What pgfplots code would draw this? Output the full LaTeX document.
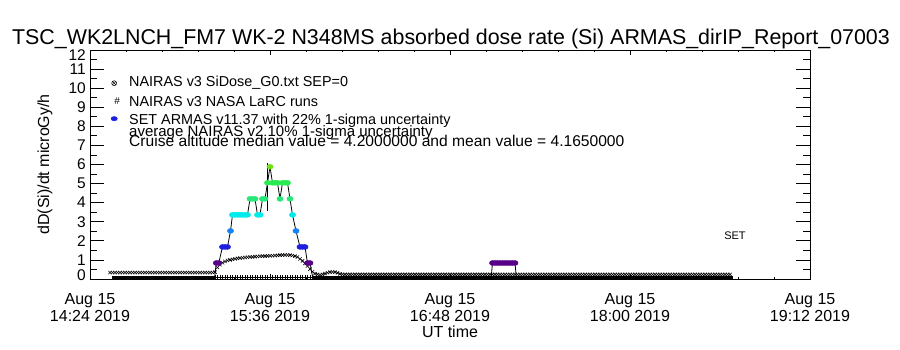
\documentclass[border=0pt]{standalone}
\usepackage{fontspec}
\setmainfont{Liberation Sans}
\usepackage{pgfplots}
\pgfplotsset{compat=1.18}
\definecolor{cA}{RGB}{85,0,135}
\definecolor{cB}{RGB}{30,30,225}
\definecolor{cC}{RGB}{20,130,245}
\definecolor{cD}{RGB}{0,235,235}
\definecolor{cE}{RGB}{40,230,120}
\definecolor{cF}{RGB}{40,235,80}
\definecolor{cG}{RGB}{110,225,20}
\begin{document}
\begin{tikzpicture}[x=1pt,y=1pt]
\path[use as bounding box] (-90,-71) rectangle (810,279);
\begin{axis}[
  at={(0,0)}, anchor=south west,
  scale only axis, width=720pt, height=229pt,
  xmin=0, xmax=288, ymin=0, ymax=12,
  axis line style={line width=0.8pt},
  every tick/.style={black, line width=0.8pt},
  tick align=inside,
  xtick={0,72,144,216,288},
  xticklabels={{Aug 15\\14:24 2019},{Aug 15\\15:36 2019},{Aug 15\\16:48 2019},{Aug 15\\18:00 2019},{Aug 15\\19:12 2019}},
  minor x tick num=4,
  ytick={0,1,...,12},
  yticklabels={\raisebox{4pt}[\height][\depth]{0},1,2,3,4,5,6,7,8,9,10,11,\raisebox{-5pt}[\height][\depth]{12}},
  minor y tick num=1,
  major tick length=14.4pt, minor tick length=7.2pt,
  xtick style={/pgfplots/major tick length=4.6pt,/pgfplots/minor tick length=2.3pt},
  /pgf/number format/assume math mode=true,
  yticklabel style={font=\fontsize{15.5}{15.5}\selectfont, inner sep=0pt, xshift=-4pt},
  xticklabel style={align=center, font=\fontsize{16}{17}\selectfont, inner sep=0pt, yshift=-14pt},
  xlabel={UT time},
  xlabel style={font=\fontsize{16}{16}\selectfont, at={(axis description cs:0.5,-0.2314)}, anchor=center},
  ylabel={dD(Si)/dt microGy/h},
  ylabel style={font=\fontsize{16}{16}\selectfont, at={(axis description cs:-0.0625,0.5)}, anchor=center, rotate=0},
  legend style={draw=none, fill=none, at={(axis description cs:0.0222,0.8886)}, anchor=north west,
    font=\fontsize{14.4}{15}\selectfont, row sep=0pt, column sep=7pt, inner sep=0pt,
    nodes={inner sep=0pt, text height=10.5pt, text depth=8pt, anchor=base west}},
  legend cell align=left,
]
\addlegendimage{legend image code/.code={\path[draw=none, fill=none] (-8pt,-2pt) rectangle (8pt,8pt); \draw[black, line width=0.5pt] plot[only marks, mark=otimes, mark size=2.5pt] coordinates {(0pt,3pt)};}}
\addlegendentry{NAIRAS v3 SiDose\_G0.txt SEP=0}
\addlegendimage{legend image code/.code={\path[draw=none, fill=none] (-8pt,-2pt) rectangle (8pt,8pt); \node[inner sep=0pt, font=\fontsize{10}{10}\selectfont] at (0pt,1.5pt) {\#};}}
\addlegendentry{NAIRAS v3 NASA LaRC runs}
\addlegendimage{legend image code/.code={\path[draw=none, fill=none] (-8pt,-2pt) rectangle (8pt,8pt); \fill[cB] (0pt,6pt) ellipse (3.2pt and 2.2pt);}}
\addlegendentry{SET ARMAS v11.37 with 22\% 1-sigma uncertainty}

% NAIRAS v3 SiDose_G0
\addplot[only marks, mark=x, mark size=2.3pt, black, line width=0.6pt, forget plot] coordinates {
(8,0.34) (9,0.34) (10,0.34) (11,0.34) (12,0.34) (13,0.34) (14,0.34) (15,0.34) (16,0.34) (17,0.34) (18,0.34) (19,0.34) (20,0.34) (21,0.34) (22,0.34) (23,0.34) (24,0.34) (25,0.34) (26,0.34) (27,0.34) (28,0.34) (29,0.34) (30,0.34) (31,0.34) (32,0.34) (33,0.34) (34,0.34) (35,0.34) (36,0.34) (37,0.34) (38,0.34) (39,0.34) (40,0.34) (41,0.34) (42,0.34) (43,0.34) (44,0.34) (45,0.34) (46,0.34) (47,0.34) (48,0.34) (49,0.34) (50,0.36)
(51,0.6) (52,0.75) (53,0.85) (54,0.92) (55,0.97) (56,1.0) (57,1.03) (58,1.06) (59,1.08) (60,1.1) (61,1.11) (62,1.13) (63,1.14) (64,1.15) (65,1.16) (66,1.17) (67,1.18) (68,1.19) (69,1.2) (70,1.2) (71,1.21) (72,1.22) (73,1.22) (74,1.23) (75,1.24) (76,1.25) (77,1.25) (78,1.26) (79,1.26) (80,1.25) (81,1.23) (82,1.2) (83,1.15) (84,1.05) (85,0.95) (86,0.82) (87,0.68) (88,0.52) (89,0.38) (90,0.28) (91,0.24) (92,0.22) (93,0.24) (94,0.28) (95,0.33) (96,0.36) (97,0.37) (98,0.36) (99,0.32) (100,0.27) (101,0.24)
(102,0.24) (103,0.24) (104,0.24) (105,0.24) (106,0.24) (107,0.24) (108,0.24) (109,0.24) (110,0.24) (111,0.24) (112,0.24) (113,0.24) (114,0.24) (115,0.24) (116,0.24) (117,0.24) (118,0.24) (119,0.24) (120,0.24) (121,0.24) (122,0.24) (123,0.24) (124,0.24) (125,0.24) (126,0.24) (127,0.24) (128,0.24) (129,0.24) (130,0.24) (131,0.24) (132,0.24) (133,0.24) (134,0.24) (135,0.24) (136,0.24) (137,0.24) (138,0.24) (139,0.24) (140,0.24) (141,0.24) (142,0.24) (143,0.24) (144,0.24) (145,0.24) (146,0.24) (147,0.24) (148,0.24) (149,0.24) (150,0.24) (151,0.24) (152,0.24) (153,0.24) (154,0.24) (155,0.24) (156,0.24) (157,0.24) (158,0.24) (159,0.24) (160,0.24) (161,0.24) (162,0.24) (163,0.24) (164,0.24) (165,0.24) (166,0.24) (167,0.24) (168,0.24) (169,0.24) (170,0.24) (171,0.24) (172,0.24) (173,0.24) (174,0.24) (175,0.24) (176,0.24) (177,0.24) (178,0.24) (179,0.24) (180,0.24) (181,0.24) (182,0.24) (183,0.24) (184,0.24) (185,0.24) (186,0.24) (187,0.24) (188,0.24) (189,0.24) (190,0.24) (191,0.24) (192,0.24) (193,0.24) (194,0.24) (195,0.24) (196,0.24) (197,0.24) (198,0.24) (199,0.24) (200,0.24) (201,0.24) (202,0.24) (203,0.24) (204,0.24) (205,0.24) (206,0.24) (207,0.24) (208,0.24) (209,0.24) (210,0.24) (211,0.24) (212,0.24) (213,0.24) (214,0.24) (215,0.24) (216,0.24) (217,0.24) (218,0.24) (219,0.24) (220,0.24) (221,0.24) (222,0.24) (223,0.24) (224,0.24) (225,0.24) (226,0.24) (227,0.24) (228,0.24) (229,0.24) (230,0.24) (231,0.24) (232,0.24) (233,0.24) (234,0.24) (235,0.24) (236,0.24) (237,0.24) (238,0.24) (239,0.24) (240,0.24) (241,0.24) (242,0.24) (243,0.24) (244,0.24) (245,0.24) (246,0.24) (247,0.24) (248,0.24) (249,0.24) (250,0.24) (251,0.24) (252,0.24) (253,0.24) (254,0.24) (255,0.24) (256,0.24)
};

% ground (zero) band
\addplot[black, line width=5pt, forget plot] coordinates {(9,0) (49.8,0)};
\addplot[black, line width=5pt, forget plot] coordinates {(89.2,0) (257,0)};

% NAIRAS LaRC runs
\addplot[only marks, mark=+, mark size=1.6pt, black, line width=0.5pt, forget plot] coordinates {
(50,0.1) (51,0.1) (52,0.1) (53,0.1) (54,0.1) (55,0.1) (56,0.1) (57,0.1) (58,0.1) (59,0.1) (60,0.1) (61,0.1) (62,0.1) (63,0.1) (64,0.1) (65,0.1) (66,0.1) (67,0.1) (68,0.1) (69,0.1) (70,0.1) (71,0.1) (72,0.1) (73,0.1) (74,0.1) (75,0.1) (76,0.1) (77,0.1) (78,0.1) (79,0.1) (80,0.1) (81,0.1) (82,0.1) (83,0.1) (84,0.1) (85,0.1) (86,0.1) (87,0.1) (88,0.1) (89,0.1)
};

% ARMAS connecting line
\addplot[black, line width=0.8pt, forget plot] coordinates {
(49.8,0) (50.5,0.84) (51.5,0.84) (53,1.68) (54,1.68) (55,1.68) (56.2,2.52) (57,3.36) (58,3.36) (59,3.36) (60,3.36) (61,3.36) (62,3.36) (63,3.36) (64,4.2) (65,4.2) (66,4.2) (67,3.36) (68,3.36) (69,4.2) (70,4.2) (71,5.04) (72,5.88) (73,5.04) (74,5.04) (75,5.04) (76,4.2) (77,5.04) (78,5.04) (79,5.04) (80,4.2) (81,3.36) (82.4,2.52) (84,1.68) (85,1.68) (86,1.68) (87,0.84) (88,0.84) (89.2,0)
};
\addplot[black, line width=0.8pt, forget plot] coordinates {
(160.4,0) (161,0.84) (170,0.84) (170.6,0)
};

% error bar
\addplot[black, line width=0.8pt, mark=none, forget plot,
  error bars/.cd, y dir=both, y explicit,
  error bar style={line width=0.8pt, black},
  error mark options={black, mark size=3.5pt, line width=0.8pt}]
  coordinates {(70.8,4.82) +- (0,1.08)};

% ARMAS markers by value
\addplot[only marks, mark=*, mark size=2.5pt, mark options={draw=cA, fill=cA, xscale=1.25}, forget plot] coordinates {
(50.5,0.84) (51.5,0.84) (87,0.84) (88,0.84)
(161,0.84) (162,0.84) (163,0.84) (164,0.84) (165,0.84) (166,0.84) (167,0.84) (168,0.84) (169,0.84) (170,0.84)
};
\addplot[only marks, mark=*, mark size=2.5pt, mark options={draw=cB, fill=cB, xscale=1.25}, forget plot] coordinates {
(53,1.68) (54,1.68) (55,1.68) (84,1.68) (85,1.68) (86,1.68)
};
\addplot[only marks, mark=*, mark size=2.5pt, mark options={draw=cC, fill=cC, xscale=1.25}, forget plot] coordinates {
(56.2,2.52) (82.4,2.52)
};
\addplot[only marks, mark=*, mark size=2.5pt, mark options={draw=cD, fill=cD, xscale=1.25}, forget plot] coordinates {
(57,3.36) (58,3.36) (59,3.36) (60,3.36) (61,3.36) (62,3.36) (63,3.36) (67,3.36) (68,3.36) (81,3.36)
};
\addplot[only marks, mark=*, mark size=2.5pt, mark options={draw=cE, fill=cE, xscale=1.25}, forget plot] coordinates {
(64,4.2) (65,4.2) (66,4.2) (69,4.2) (70,4.2) (76,4.2) (80,4.2)
};
\addplot[only marks, mark=*, mark size=2.5pt, mark options={draw=cF, fill=cF, xscale=1.25}, forget plot] coordinates {
(71,5.04) (73,5.04) (74,5.04) (75,5.04) (77,5.04) (78,5.04) (79,5.04)
};
\addplot[only marks, mark=*, mark size=2.5pt, mark options={draw=cG, fill=cG, xscale=1.25}, forget plot] coordinates {
(72,5.88)
};

\node[font=\fontsize{11}{11}\selectfont, inner sep=0pt] at (axis cs:258,2.26) {SET};
\end{axis}
\node[anchor=base, font=\fontsize{21.4}{22}\selectfont, inner sep=0pt] at (361,234) {TSC\_WK2LNCH\_FM7 WK-2 N348MS absorbed dose rate (Si) ARMAS\_dirIP\_Report\_07003};
\node[anchor=base west, font=\fontsize{15}{15}\selectfont, inner sep=0pt] at (39,142) {average NAIRAS v2 10\% 1-sigma uncertainty};
\node[anchor=base west, font=\fontsize{15.6}{15.6}\selectfont, inner sep=0pt] at (39,132) {Cruise altitude median value = 4.2000000 and mean value = 4.1650000};
\end{tikzpicture}
\end{document}
